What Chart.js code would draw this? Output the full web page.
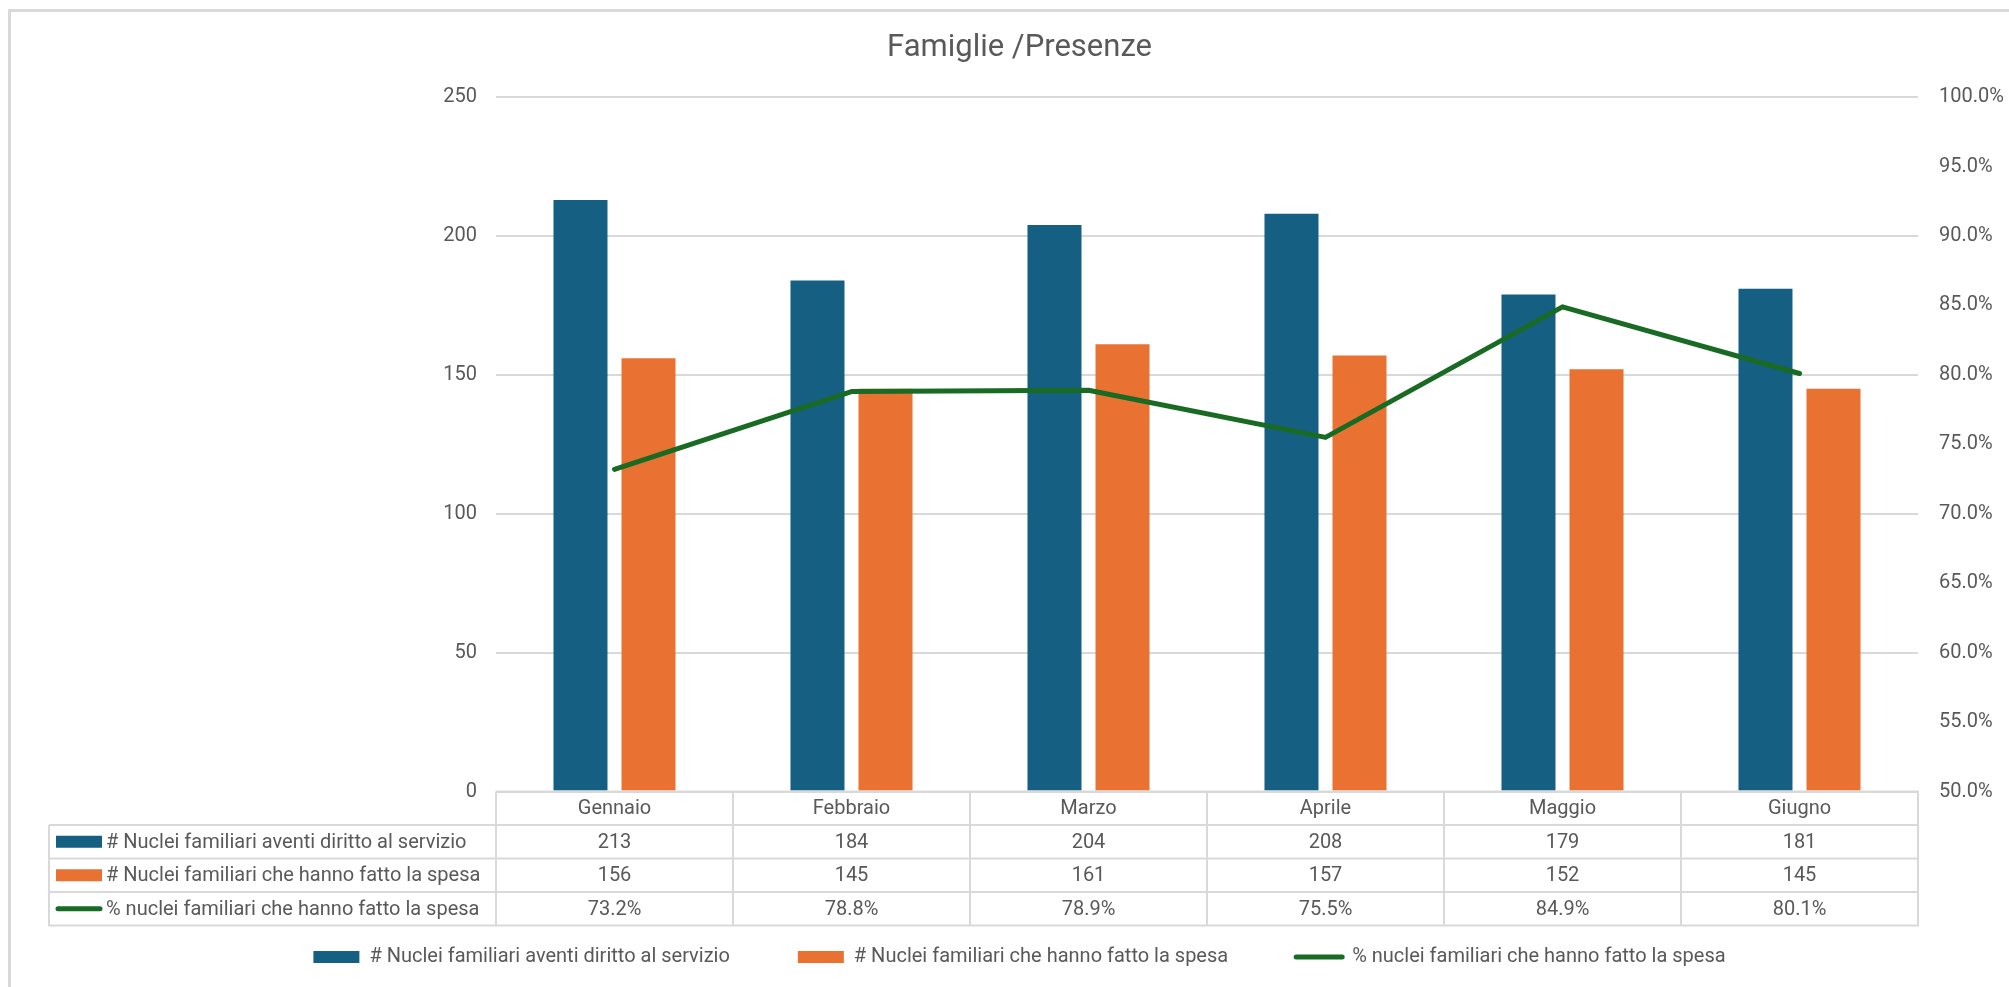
<!DOCTYPE html>
<html>
<head>
<meta charset="utf-8">
<script src="https://cdn.jsdelivr.net/npm/chart.js@4.4.0/dist/chart.umd.min.js"></script>
<style>
html,body{margin:0;padding:0;background:#fff;}
</style>
</head>
<body>
<canvas id="myChart" width="2009" height="987"></canvas>
<script>
var mesi=['Gennaio','Febbraio','Marzo','Aprile','Maggio','Giugno'];
var aventiDiritto=[213,184,204,208,179,181];
var hannoFattoSpesa=[156,145,161,157,152,145];
var percentuale=[73.2,78.8,78.9,75.5,84.9,80.1];
var nomiSerie=['# Nuclei familiari aventi diritto al servizio','# Nuclei familiari che hanno fatto la spesa','% nuclei familiari che hanno fatto la spesa'];
var colori=['#156082','#E97132','#196B24'];

var grigio='#595959';
var narrow='"Liberation Sans Narrow", "Roboto"';

// cornice grigia (solo lato sinistro e alto)
var cornice={
	id:'cornice',
	beforeDraw:function(chart){
		var c=chart.ctx;
		c.save();
		c.fillStyle='#fff';
		c.fillRect(0,0,chart.width,chart.height);
		c.strokeStyle='#d9d9d9';
		c.lineWidth=3;
		c.beginPath();
		c.moveTo(9.5,chart.height);
		c.lineTo(9.5,10.5);
		c.lineTo(chart.width,10.5);
		c.stroke();
		c.restore();
	}
};

// tabella dati sotto il grafico
var tabella={
	id:'tabella',
	afterDraw:function(chart){
		var c=chart.ctx,a=chart.chartArea,x=chart.scales.x;
		var rowH=33.5,top=a.bottom,left=49;
		var n=mesi.length,w=(a.right-a.left)/n;
		c.save();
		c.strokeStyle='#d9d9d9';
		c.lineWidth=2;
		c.beginPath();
		c.moveTo(a.left,top);c.lineTo(a.right+1,top);
		for(var r=1;r<=4;r++){c.moveTo(left,top+r*rowH);c.lineTo(a.right+1,top+r*rowH);}
		c.moveTo(left,top+rowH);c.lineTo(left,top+4*rowH+1);
		for(var i=0;i<=n;i++){var xx=a.left+i*w;c.moveTo(xx,top);c.lineTo(xx,top+4*rowH+1);}
		c.stroke();

		c.font='20px '+narrow;
		c.fillStyle=grigio;
		c.textBaseline='middle';
		c.textAlign='center';
		var righe=[mesi,aventiDiritto,hannoFattoSpesa,percentuale.map(function(v){return v.toFixed(1)+'%';})];
		for(var r2=0;r2<righe.length;r2++){
			var cy=top+r2*rowH+rowH/2+1;
			for(var j=0;j<n;j++){
				c.fillText(String(righe[r2][j]),x.getPixelForValue(j),cy);
			}
		}
		// etichette di riga con chiave
		c.textAlign='left';
		for(var k=0;k<3;k++){
			var yy=top+(k+1)*rowH+rowH/2;
			if(k<2){
				c.fillStyle=colori[k];
				c.fillRect(56,yy-6,46,12);
			}else{
				c.strokeStyle=colori[k];
				c.lineWidth=5;
				c.lineCap='round';
				c.beginPath();c.moveTo(58,yy);c.lineTo(100,yy);c.stroke();
			}
			c.fillStyle=grigio;
			c.fillText(nomiSerie[k],106,yy+1);
		}
		c.restore();
	}
};

var ctx=document.getElementById('myChart').getContext('2d');
var myChart=new Chart(ctx,{
	type:'bar',
	data:{
		labels:mesi,
		datasets:[{
			label:nomiSerie[0],
			data:aventiDiritto,
			backgroundColor:colori[0],
			yAxisID:'y',
			categoryPercentage:0.574,
			barPercentage:0.794
		},{
			label:nomiSerie[1],
			data:hannoFattoSpesa,
			backgroundColor:colori[1],
			yAxisID:'y',
			categoryPercentage:0.574,
			barPercentage:0.794
		},{
			type:'line',
			label:nomiSerie[2],
			data:percentuale,
			borderColor:colori[2],
			backgroundColor:colori[2],
			borderWidth:5,
			pointRadius:0,
			borderCapStyle:'round',
			borderJoinStyle:'round',
			yAxisID:'y1',
			order:-1
		}]
	},
	options:{
		responsive:false,
		animation:false,
		layout:{padding:{left:30,right:0,top:0,bottom:10}},
		plugins:{
			title:{
				display:true,
				text:'Famiglie /Presenze',
				color:grigio,
				font:{family:'Roboto',size:31,weight:'normal'},
				padding:{top:30,bottom:30}
			},
			legend:{
				position:'bottom',
				labels:{
					usePointStyle:true,
					pointStyleWidth:46,
					boxHeight:12,
					padding:68,
					color:grigio,
					font:{family:narrow,size:20},
					sort:function(a,b){return a.datasetIndex-b.datasetIndex;},
					generateLabels:function(chart){
						return nomiSerie.map(function(t,i){
							return {text:t,datasetIndex:i,fillStyle:colori[i],strokeStyle:colori[i],
								lineWidth:i==2?5:0,pointStyle:i==2?'line':'rect',lineCap:'round',
								fontColor:grigio,hidden:false};
						});
					}
				}
			},
			tooltip:{enabled:false}
		},
		scales:{
			x:{
				grid:{display:false},
				border:{display:false},
				ticks:{display:false},
				afterFit:function(s){s.height=877.5-792+2;}
			},
			y:{
				position:'left',
				min:0,max:250,
				ticks:{stepSize:50,padding:19,color:grigio,font:{family:'Roboto',size:20}},
				grid:{color:'#d9d9d9',lineWidth:2,drawTicks:false},
				border:{display:false},
				afterFit:function(s){s.width=466;}
			},
			y1:{
				position:'right',
				min:50,max:100,
				ticks:{stepSize:5,padding:21,color:grigio,font:{family:'Roboto',size:20},
					callback:function(v){return v.toFixed(1)+'%';}},
				grid:{display:false,drawTicks:false},
				border:{display:false},
				afterFit:function(s){s.width=91;}
			}
		}
	},
	plugins:[cornice,tabella]
});
</script>
</body>
</html>
